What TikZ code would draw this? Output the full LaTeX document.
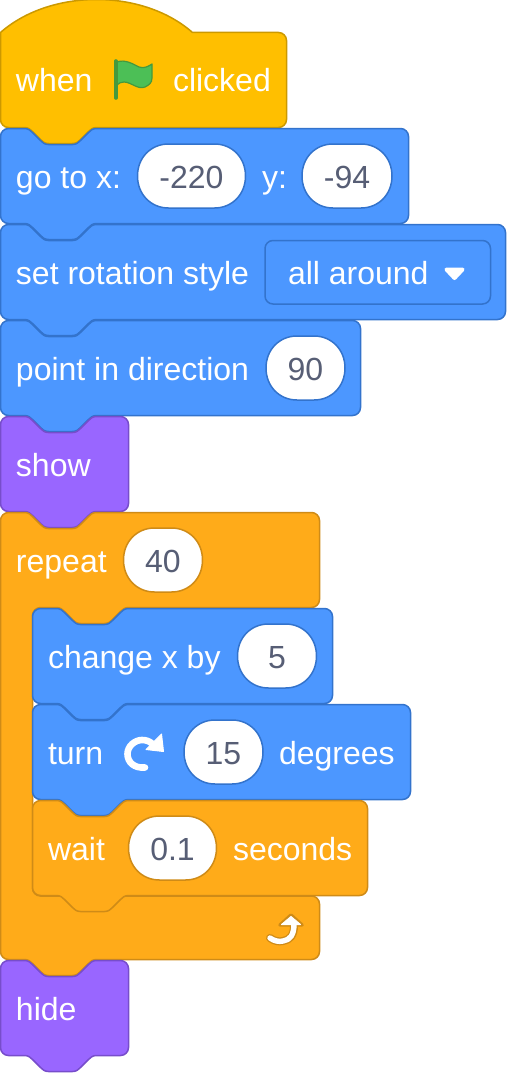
\documentclass[tikz,border=0pt]{standalone}
\usepackage{fontspec}
\setmainfont{Liberation Sans}
\definecolor{hatfill}{HTML}{FFBF00}\definecolor{hatline}{HTML}{CC9900}
\definecolor{motion}{HTML}{4C97FF}\definecolor{motionline}{HTML}{3373CC}
\definecolor{looks}{HTML}{9966FF}\definecolor{looksline}{HTML}{774DCB}
\definecolor{ctrl}{HTML}{FFAB19}\definecolor{ctrlline}{HTML}{CF8B17}
\definecolor{flagfill}{HTML}{4CBF56}\definecolor{flagline}{HTML}{45993D}
\definecolor{numtext}{HTML}{575E75}
\tikzset{
  blocktext/.style={anchor=base west,inner sep=0pt,outer sep=0pt,text=white,font=\fontsize{32}{32}\selectfont},
  pilltext/.style={anchor=base,inner sep=0pt,outer sep=0pt,text=numtext,font=\fontsize{32}{32}\selectfont},
  blockedge/.style={line width=1.5pt,line join=round},
}
\def\tabLR#1#2{(#1+24,#2) .. controls (#1+28,#2) and (#1+30,#2+2) .. (#1+32,#2+4) -- (#1+40,#2+12) .. controls (#1+42,#2+14) and (#1+44,#2+16) .. (#1+48,#2+16) -- (#1+72,#2+16) .. controls (#1+76,#2+16) and (#1+78,#2+14) .. (#1+80,#2+12) -- (#1+88,#2+4) .. controls (#1+90,#2+2) and (#1+92,#2) .. (#1+96,#2)}
\def\tabRL#1#2{(#1+96,#2) .. controls (#1+92,#2) and (#1+90,#2+2) .. (#1+88,#2+4) -- (#1+80,#2+12) .. controls (#1+78,#2+14) and (#1+76,#2+16) .. (#1+72,#2+16) -- (#1+48,#2+16) .. controls (#1+44,#2+16) and (#1+42,#2+14) .. (#1+40,#2+12) -- (#1+32,#2+4) .. controls (#1+30,#2+2) and (#1+28,#2) .. (#1+24,#2)}
\def\rightbottom#1#2#3{-- (#1-8,#2) .. controls (#1-3.6,#2) and (#1,#2+3.6) .. (#1,#2+8) -- (#1,#3-8) .. controls (#1,#3-3.6) and (#1-3.6,#3) .. (#1-8,#3) -- \tabRL{0}{#3} -- (8,#3) .. controls (3.6,#3) and (0,#3-3.6) .. (0,#3-8)}
\newcommand{\stackblock}[5]{%
  \draw[blockedge,fill=#4,draw=#5,shift={(#1+.5,#2+.5)}]
    (0,8) .. controls (0,3.6) and (3.6,0) .. (8,0) -- \tabLR{0}{0} \rightbottom{#3-1}{0}{95} -- cycle;}
% #1 name, #2 left, #3 right, #4 top, #5 line colour, #6 text
\newcommand{\pillbox}[6]{%
  \draw[blockedge,fill=white,draw=#5]
    (#2,#4+32) .. controls (#2,#4+13.5) and (#2+13.5,#4) .. (#2+31,#4)
    -- (#3-31,#4) .. controls (#3-13.5,#4) and (#3,#4+13.5) .. (#3,#4+32)
    .. controls (#3,#4+50.5) and (#3-13.5,#4+64) .. (#3-31,#4+64)
    -- (#2+31,#4+64) .. controls (#2+13.5,#4+64) and (#2,#4+50.5) .. (#2,#4+32) -- cycle;
  \node[pilltext] (#1) at ({(#2+#3)/2},#4+44) {#6};}
\begin{document}
\begin{tikzpicture}[x=1pt,y=-1pt]
\useasboundingbox (0,0) rectangle (506,1073);
% hat
\draw[blockedge,fill=hatfill,draw=hatline,shift={(.5,32.5)}]
  (0,0) .. controls (50,-44) and (142,-44) .. (192,0) \rightbottom{286}{0}{95} -- cycle;
\node[blocktext] (when) at (16,92) {when};
\draw[fill=flagfill,draw=flagline,line width=1.2pt,line join=round]
  (117,62) .. controls (125,59) and (133,64) .. (139,67) .. controls (144,69) and (149,66) .. (152,64)
  -- (152,78) .. controls (152,83) and (149,85) .. (145,87) .. controls (138,90) and (131,82) .. (124,82) .. controls (121,82) and (119,83) .. (117,85) -- cycle;
\draw[flagline,line width=3.6pt,line cap=round] (115.8,61) -- (115.8,98);
\node[blocktext] (clicked) at (173,92) {clicked};
% go to
\stackblock{0}{128}{409}{motion}{motionline}
\node[blocktext] (goto) at (16,188) {go to x:};
\pillbox{xval}{137.5}{245.5}{144}{motionline}{-220}
\node[blocktext] (ylab) at (262,188) {y:};
\pillbox{yval}{302}{392}{144}{motionline}{-94}
% rotation style
\stackblock{0}{224}{506}{motion}{motionline}
\node[blocktext] (rot) at (16,284) {set rotation style};
\draw[fill=motion,draw=motionline,line width=1.5pt,rounded corners=8pt] (265,240.5) rectangle (490.5,304);
\node[blocktext] (allaround) at (288,284) {all around};
\fill[white,draw=white,line width=4pt,line join=round] (446.5,269.5) -- (462.5,269.5) -- (454.5,278) -- cycle;
% direction
\stackblock{0}{320}{361}{motion}{motionline}
\node[blocktext] (dir) at (16,380) {point in direction};
\pillbox{dirval}{266}{345}{336}{motionline}{90}
% show
\stackblock{0}{416}{129}{looks}{looksline}
\node[blocktext] (show) at (16,476) {show};
% repeat C block
\draw[blockedge,fill=ctrl,draw=ctrlline,shift={(.5,512.5)}]
  (0,8) .. controls (0,3.6) and (3.6,0) .. (8,0) -- \tabLR{0}{0}
  -- (311,0) .. controls (315.4,0) and (319,3.6) .. (319,8) -- (319,87) .. controls (319,91.4) and (315.4,95) .. (311,95)
  -- \tabRL{32}{95} -- (40,95) .. controls (35.6,95) and (32,98.6) .. (32,103)
  -- (32,375.5) .. controls (32,380) and (35.6,383.5) .. (40,383.5)
  \rightbottom{319}{383.5}{447} -- cycle;
\node[blocktext] (repeat) at (16,572) {repeat};
\pillbox{repval}{123.5}{202.5}{528}{ctrlline}{40}
\draw[ctrlline,line width=8pt,line cap=round,line join=round]
  (294,926) .. controls (294,935) and (290,940) .. (283,941) .. controls (279,942) and (274,941) .. (270,938);
\draw[fill=white,draw=ctrlline,line width=3.4pt,line join=round] (291,915) -- (302,925) -- (280,925) -- cycle;
\fill[white,draw=white,line width=1pt,line join=round] (291,916.5) -- (300.5,924.5) -- (281.5,924.5) -- cycle;
\draw[white,line width=5.4pt,line cap=round] (294,924) .. controls (294,935) and (290,940) .. (283,941) .. controls (279,942) and (274,941) .. (270,938);
% change x
\stackblock{32}{608}{301}{motion}{motionline}
\node[blocktext] (chg) at (48,668) {change x by};
\pillbox{chgval}{237.5}{316.5}{624}{motionline}{5}
% turn
\stackblock{32}{704}{379}{motion}{motionline}
\node[blocktext] (turn) at (48,764) {turn};
\draw[white,line width=6.6pt,line cap=round] (145,767.5) .. controls (134,768.5) and (127.5,762) .. (127.5,754) .. controls (127.5,746) and (135,740) .. (142,740) .. controls (146,740) and (149,741) .. (152,743.5);
\fill[white,draw=white,line width=1pt,line join=round] (161.5,734) -- (163.5,751.5) -- (146,749.5) -- cycle;
\pillbox{turnval}{184}{263}{720}{motionline}{15}
\node[blocktext] (deg) at (279,764) {degrees};
% wait
\stackblock{32}{800}{336}{ctrl}{ctrlline}
\node[blocktext] (wait) at (48,860) {wait};
\pillbox{waitval}{128.5}{216.5}{816}{ctrlline}{0.1}
\node[blocktext] (sec) at (233,860) {seconds};
% hide
\stackblock{0}{960}{129}{looks}{looksline}
\node[blocktext] (hide) at (16,1020) {hide};
\end{tikzpicture}
\end{document}
